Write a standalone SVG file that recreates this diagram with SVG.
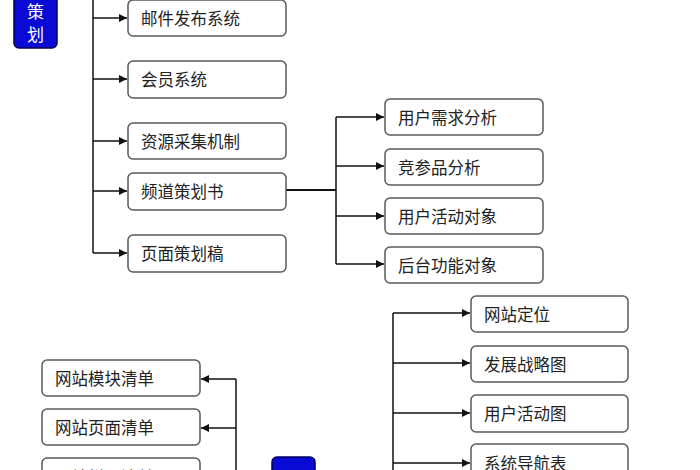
<svg xmlns="http://www.w3.org/2000/svg" width="700" height="470" viewBox="0 0 700 470">
<style>
.box{fill:#fff;stroke:#5a5a5a;stroke-width:1.5}
.blue{fill:#0a0ad6;stroke:#00005a;stroke-width:1.5}
.t{font-family:"Noto Sans CJK SC","Noto Sans",sans-serif;font-size:16.5px;fill:#222;dominant-baseline:central}
.bt{font-family:"Noto Sans CJK SC","Noto Sans",sans-serif;font-size:17px;fill:#fff;text-anchor:middle;dominant-baseline:central}
.ln{fill:none;stroke:#111;stroke-width:1.5}
</style>
<defs>
<marker id="ah" viewBox="0 0 10 10" refX="10" refY="5" markerWidth="8" markerHeight="8" markerUnits="userSpaceOnUse" orient="auto">
<path d="M0,0 L10,5 L0,10 z" fill="#111"/>
</marker>
</defs>
<rect width="700" height="470" fill="#fff"/>
<g id="connectors">
<path class="ln" d="M93,0 V253"/>
<path class="ln" d="M93,18 H127" marker-end="url(#ah)"/>
<path class="ln" d="M93,79 H127" marker-end="url(#ah)"/>
<path class="ln" d="M93,141 H127" marker-end="url(#ah)"/>
<path class="ln" d="M93,191 H127" marker-end="url(#ah)"/>
<path class="ln" d="M93,253 H127" marker-end="url(#ah)"/>
<path class="ln" d="M286,190 H336" style="stroke-width:2.2"/>
<path class="ln" d="M336,117 V264"/>
<path class="ln" d="M336,117 H384" marker-end="url(#ah)"/>
<path class="ln" d="M336,166 H384" marker-end="url(#ah)"/>
<path class="ln" d="M336,216 H384" marker-end="url(#ah)"/>
<path class="ln" d="M336,264 H384" marker-end="url(#ah)"/>
<path class="ln" d="M236,379 V475"/>
<path class="ln" d="M236,379 H201" marker-end="url(#ah)"/>
<path class="ln" d="M236,428 H201" marker-end="url(#ah)"/>
<path class="ln" d="M393,313 V475"/>
<path class="ln" d="M393,313 H470" marker-end="url(#ah)"/>
<path class="ln" d="M393,363 H470" marker-end="url(#ah)"/>
<path class="ln" d="M393,413 H470" marker-end="url(#ah)"/>
<path class="ln" d="M393,463 H470" marker-end="url(#ah)"/>
</g>
<g id="n-top-blue"><rect class="blue" x="14" y="-30" width="43" height="78" rx="5"/><text class="bt" x="35.5" y="10.5">策</text><text class="bt" x="35.5" y="33">划</text></g>
<g id="n-top-partial"><rect class="box" x="128" y="-40" width="158" height="36" rx="5"/></g>
<g id="n-mail"><rect class="box" x="128" y="0" width="158" height="36" rx="5"/><text class="t" x="141" y="18">邮件发布系统</text></g>
<g id="n-member"><rect class="box" x="128" y="61" width="158" height="37" rx="5"/><text class="t" x="141" y="79">会员系统</text></g>
<g id="n-resource"><rect class="box" x="128" y="123" width="158" height="36" rx="5"/><text class="t" x="141" y="141">资源采集机制</text></g>
<g id="n-channel"><rect class="box" x="128" y="173" width="158" height="37" rx="5"/><text class="t" x="141" y="191">频道策划书</text></g>
<g id="n-page"><rect class="box" x="128" y="235" width="158" height="37" rx="5"/><text class="t" x="141" y="253">页面策划稿</text></g>
<g id="n-needs"><rect class="box" x="385" y="99" width="158" height="36" rx="5"/><text class="t" x="398" y="117">用户需求分析</text></g>
<g id="n-compete"><rect class="box" x="385" y="149" width="158" height="36" rx="5"/><text class="t" x="398" y="167">竞参品分析</text></g>
<g id="n-activity-obj"><rect class="box" x="385" y="198" width="158" height="36" rx="5"/><text class="t" x="398" y="216">用户活动对象</text></g>
<g id="n-backend-obj"><rect class="box" x="385" y="247" width="158" height="36" rx="5"/><text class="t" x="398" y="265">后台功能对象</text></g>
<g id="n-module-list"><rect class="box" x="42" y="360" width="158" height="36" rx="5"/><text class="t" x="55" y="378">网站模块清单</text></g>
<g id="n-page-list"><rect class="box" x="42" y="409" width="158" height="36" rx="5"/><text class="t" x="55" y="427">网站页面清单</text></g>
<g id="n-third-list"><rect class="box" x="42" y="458" width="158" height="36" rx="5"/><text class="t" x="55" y="477">网站栏目清单</text></g>
<g id="n-bottom-blue"><rect class="blue" x="272" y="457" width="43" height="60" rx="5"/><text class="bt" x="293.5" y="477">总</text></g>
<g id="n-position"><rect class="box" x="471" y="296" width="157" height="36" rx="5"/><text class="t" x="484" y="314">网站定位</text></g>
<g id="n-strategy"><rect class="box" x="471" y="346" width="157" height="36" rx="5"/><text class="t" x="484" y="364">发展战略图</text></g>
<g id="n-activity-map"><rect class="box" x="471" y="395" width="157" height="37" rx="5"/><text class="t" x="484" y="413">用户活动图</text></g>
<g id="n-nav"><rect class="box" x="471" y="444" width="157" height="36" rx="5"/><text class="t" x="484" y="463">系统导航表</text></g>
</svg>
